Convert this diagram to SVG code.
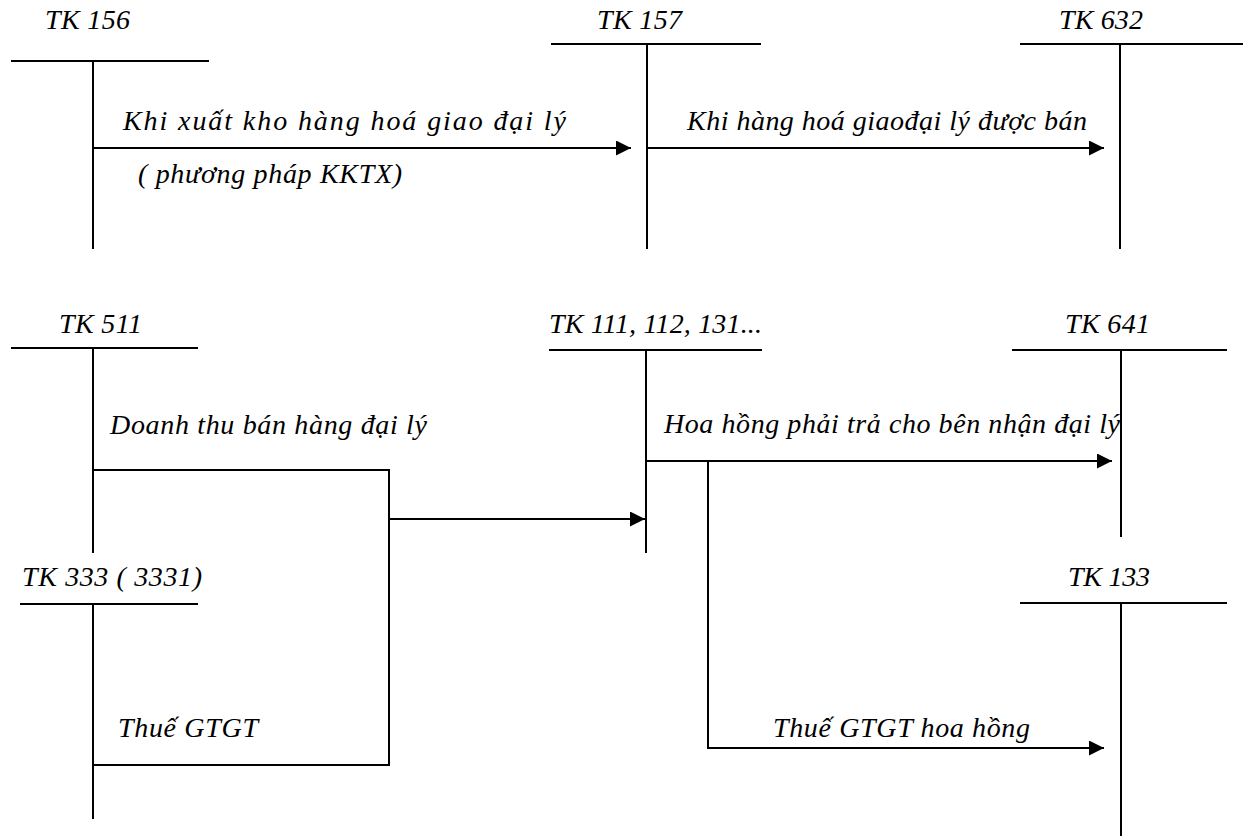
<svg xmlns="http://www.w3.org/2000/svg" width="1251" height="836" viewBox="0 0 1251 836">
  <style>
    .ln { stroke: #000; stroke-width: 2; fill: none; }
    .lbl { font-family: 'Liberation Serif', 'Times New Roman', serif; font-style: italic; font-size: 28px; fill: #000; }
  </style>
  <defs>
    <marker id="arr" markerUnits="userSpaceOnUse" markerWidth="16" markerHeight="16" refX="15" refY="7.5" orient="auto">
      <path d="M0,0 L15,7.5 L0,15 z" fill="#000"/>
    </marker>
  </defs>
  <rect width="1251" height="836" fill="#fff"/>

  <!-- T-accounts -->
  <g id="tk156">
    <text class="lbl" x="45" y="29" textLength="85" lengthAdjust="spacing">TK 156</text>
    <line class="ln" x1="11" y1="61" x2="209" y2="61"/>
    <line class="ln" x1="93" y1="61" x2="93" y2="249"/>
  </g>
  <g id="tk157">
    <text class="lbl" x="597" y="29" textLength="85" lengthAdjust="spacing">TK 157</text>
    <line class="ln" x1="551" y1="44" x2="761" y2="44"/>
    <line class="ln" x1="647" y1="44" x2="647" y2="249"/>
  </g>
  <g id="tk632">
    <text class="lbl" x="1059" y="29" textLength="84" lengthAdjust="spacing">TK 632</text>
    <line class="ln" x1="1020" y1="44" x2="1243" y2="44"/>
    <line class="ln" x1="1120" y1="44" x2="1120" y2="249"/>
  </g>
  <g id="tk511">
    <text class="lbl" x="59" y="333" textLength="83" lengthAdjust="spacing">TK 511</text>
    <line class="ln" x1="11" y1="348" x2="198" y2="348"/>
    <line class="ln" x1="93" y1="348" x2="93" y2="553"/>
  </g>
  <g id="tk111">
    <text class="lbl" x="549" y="333" textLength="213" lengthAdjust="spacing">TK 111, 112, 131...</text>
    <line class="ln" x1="549" y1="350" x2="762" y2="350"/>
    <line class="ln" x1="646" y1="350" x2="646" y2="553"/>
  </g>
  <g id="tk641">
    <text class="lbl" x="1065" y="333" textLength="85" lengthAdjust="spacing">TK 641</text>
    <line class="ln" x1="1012" y1="350" x2="1227" y2="350"/>
    <line class="ln" x1="1121" y1="350" x2="1121" y2="537"/>
  </g>
  <g id="tk333">
    <text class="lbl" x="22" y="586" textLength="180" lengthAdjust="spacing">TK 333 ( 3331)</text>
    <line class="ln" x1="20" y1="604" x2="198" y2="604"/>
    <line class="ln" x1="93" y1="604" x2="93" y2="819"/>
  </g>
  <g id="tk133">
    <text class="lbl" x="1068" y="586" textLength="82" lengthAdjust="spacing">TK 133</text>
    <line class="ln" x1="1020" y1="603" x2="1227" y2="603"/>
    <line class="ln" x1="1121" y1="603" x2="1121" y2="836"/>
  </g>

  <!-- Entries between accounts -->
  <g id="connectors">
    <line class="ln" x1="93" y1="148" x2="631" y2="148" marker-end="url(#arr)"/>
    <text class="lbl" x="123" y="130" textLength="443" lengthAdjust="spacing">Khi xuất kho hàng hoá giao đại lý</text>
    <text class="lbl" x="138" y="183" textLength="264" lengthAdjust="spacing">( phương pháp KKTX)</text>

    <line class="ln" x1="647" y1="148" x2="1104" y2="148" marker-end="url(#arr)"/>
    <text class="lbl" x="687" y="130" textLength="400" lengthAdjust="spacing">Khi hàng hoá giaođại lý được bán</text>

    <path class="ln" d="M93,470 H389 V765 H93"/>
    <line class="ln" x1="389" y1="519" x2="645" y2="519" marker-end="url(#arr)"/>
    <text class="lbl" x="110" y="434" textLength="317" lengthAdjust="spacing">Doanh thu bán hàng đại lý</text>
    <text class="lbl" x="118" y="737" textLength="140" lengthAdjust="spacing">Thuế GTGT</text>

    <line class="ln" x1="646" y1="461" x2="1112" y2="461" marker-end="url(#arr)"/>
    <text class="lbl" x="664" y="433" textLength="456" lengthAdjust="spacing">Hoa hồng phải trả cho bên nhận đại lý</text>

    <path class="ln" d="M708,461 V748 H1104" marker-end="url(#arr)"/>
    <text class="lbl" x="773" y="737" textLength="257" lengthAdjust="spacing">Thuế GTGT hoa hồng</text>
  </g>
</svg>
